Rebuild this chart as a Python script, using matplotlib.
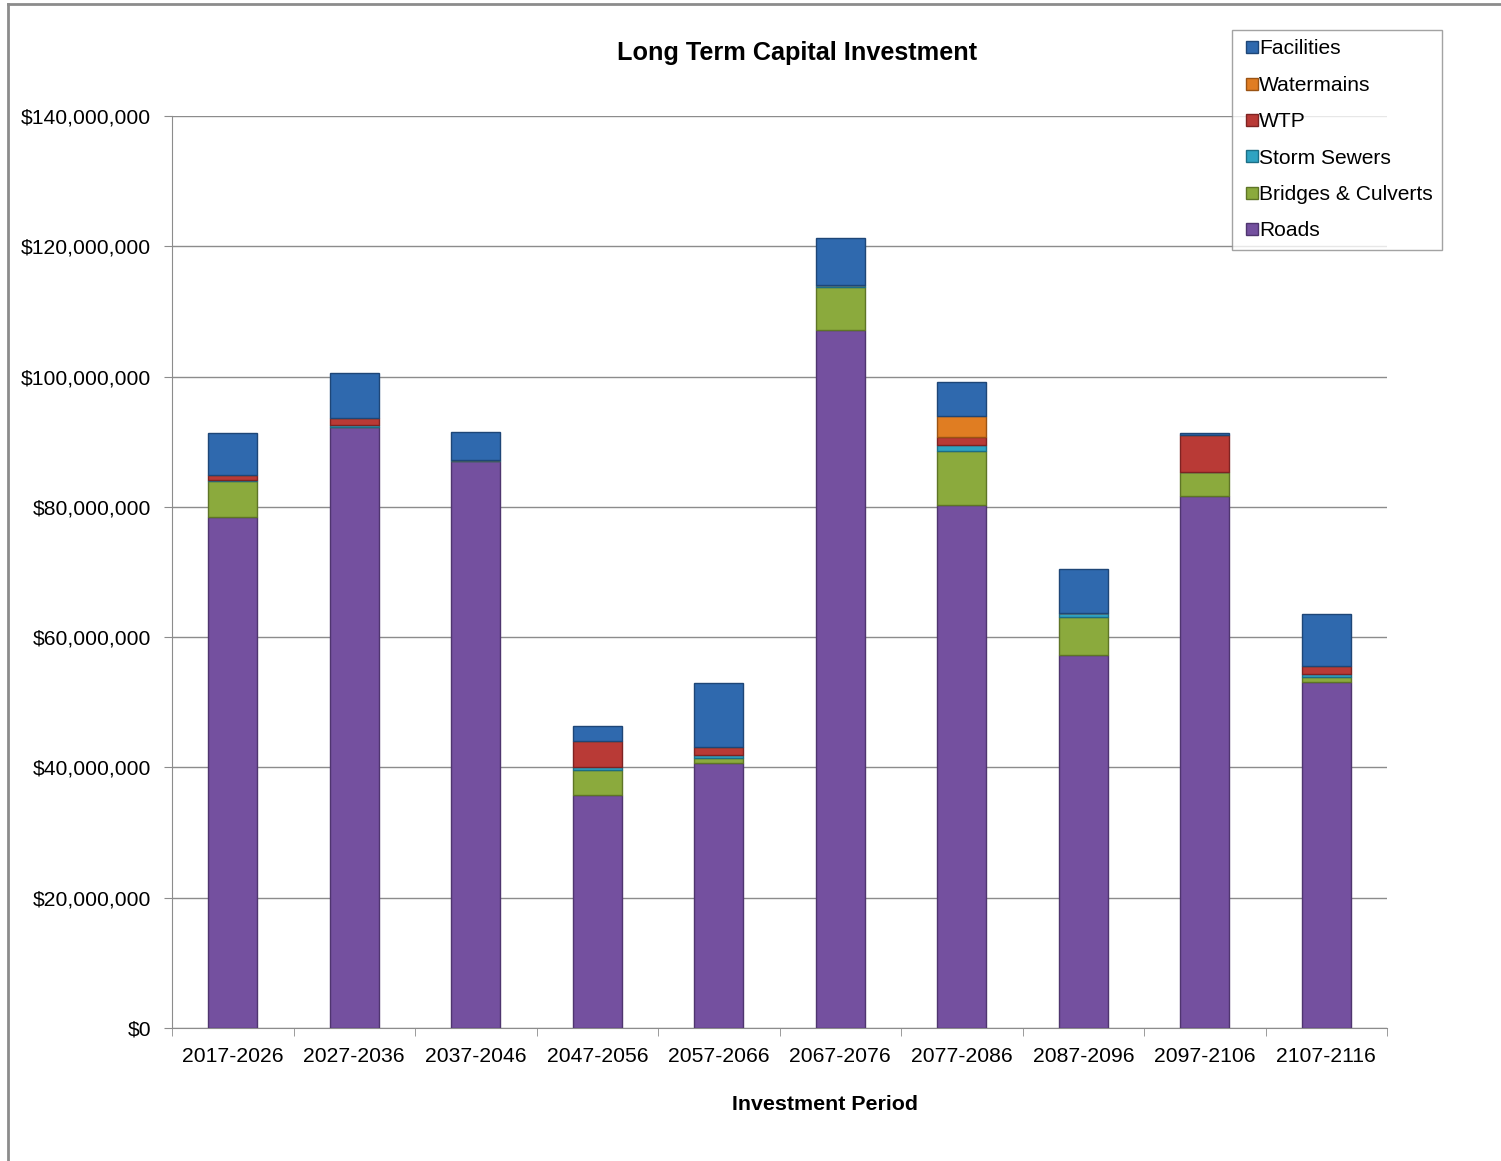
import numpy as np
import matplotlib
matplotlib.use("Agg")
import matplotlib.pyplot as plt
from matplotlib.lines import Line2D
from matplotlib.ticker import FuncFormatter, MultipleLocator

plt.rcParams['font.family'] = ['Liberation Sans', 'DejaVu Sans']

# Data (millions of dollars)
periods = ["2017-2026", "2027-2036", "2037-2046", "2047-2056", "2057-2066",
           "2067-2076", "2077-2086", "2087-2096", "2097-2106", "2107-2116"]
roads = [78.5, 92.3, 87.0, 35.8, 40.7, 107.2, 80.3, 57.3, 81.7, 53.1]
bridges = [5.5, 0.0, 0.0, 3.8, 0.7, 6.5, 8.3, 5.8, 3.6, 0.8]
storm = [0.1, 0.3, 0.2, 0.5, 0.5, 0.4, 0.9, 0.6, 0.0, 0.4]
wtp = [0.8, 1.1, 0.0, 4.0, 1.2, 0.0, 1.2, 0.0, 5.7, 1.3]
watermains = [0.0, 0.0, 0.0, 0.0, 0.0, 0.0, 3.3, 0.0, 0.0, 0.0]
facilities = [6.4, 6.9, 4.3, 2.2, 9.8, 7.1, 5.2, 6.8, 0.4, 8.0]

series = [
    ("Roads", roads, "#74509F", "#4F356F"),
    ("Bridges & Culverts", bridges, "#8BAA3D", "#5E7526"),
    ("Storm Sewers", storm, "#2FA3C2", "#1C6E85"),
    ("WTP", wtp, "#B93A36", "#7E2322"),
    ("Watermains", watermains, "#E07D22", "#9A5313"),
    ("Facilities", facilities, "#2F69AE", "#1E4677"),
]

fig = plt.figure(figsize=(15.01, 11.61), dpi=100)
ax = fig.add_axes([172 / 1501, 133 / 1161, 1215 / 1501, 912 / 1161])

x = np.arange(len(periods))
bottom = np.zeros(len(periods))
handles = []
for name, vals, col, edge in series:
    v = np.array(vals) * 1e6
    ax.bar(x, v, width=0.40, bottom=bottom, color=col, edgecolor=edge,
           linewidth=1.0, zorder=3)
    bottom += v
    handles.append(Line2D([], [], marker="s", linestyle="none", markersize=8,
                          markerfacecolor=col, markeredgecolor=edge, label=name))

ax.set_xlim(-0.5, len(periods) - 0.5)
ax.set_ylim(0, 140e6)
ax.yaxis.set_major_locator(MultipleLocator(20e6))
ax.yaxis.set_major_formatter(FuncFormatter(lambda v, p: "${:,.0f}".format(v)))
ax.grid(axis="y", color="#8C8C8C", linewidth=1.0, zorder=0)
ax.set_axisbelow(True)

ax.set_xticks(x)
ax.set_xticklabels(periods)
ax.set_xticks(np.arange(-0.5, len(periods)), minor=True)
ax.tick_params(axis="x", which="major", length=0, labelsize=15.2, pad=14)
ax.tick_params(axis="x", which="minor", length=6, color="#8C8C8C")
ax.tick_params(axis="y", length=6, color="#8C8C8C", labelsize=15.2, pad=9)

for s in ["top", "right"]:
    ax.spines[s].set_visible(False)
for s in ["left", "bottom"]:
    ax.spines[s].set_color("#8C8C8C")

fig.text(825 / 1501, 1 - 1105 / 1161, "Investment Period",
         fontsize=15.4, fontweight="bold", ha="center", va="center")
fig.text(797 / 1501, 1 - 53 / 1161, "Long Term Capital Investment",
         fontsize=18.2, fontweight="bold", ha="center", va="center")

leg = fig.legend(handles=handles[::-1], loc="upper left",
                 bbox_to_anchor=(1232 / 1501, 1 - 30 / 1161),
                 fontsize=15.1, frameon=True, fancybox=False, handletextpad=-0.15,
                 labelspacing=0.83, borderpad=0.45, handlelength=1.0,
                 borderaxespad=0)
leg.get_frame().set_edgecolor("#8C8C8C")
leg.get_frame().set_linewidth(1.0)

# outer chart frame (left and top edges visible)
fig.add_artist(Line2D([8 / 1501, 8 / 1501], [0, 1 - 4 / 1161],
                      transform=fig.transFigure, color="#8C8C8C", linewidth=2))
fig.add_artist(Line2D([8 / 1501, 1], [1 - 4 / 1161, 1 - 4 / 1161],
                      transform=fig.transFigure, color="#8C8C8C", linewidth=2))

fig.savefig("out.png", dpi=100)
